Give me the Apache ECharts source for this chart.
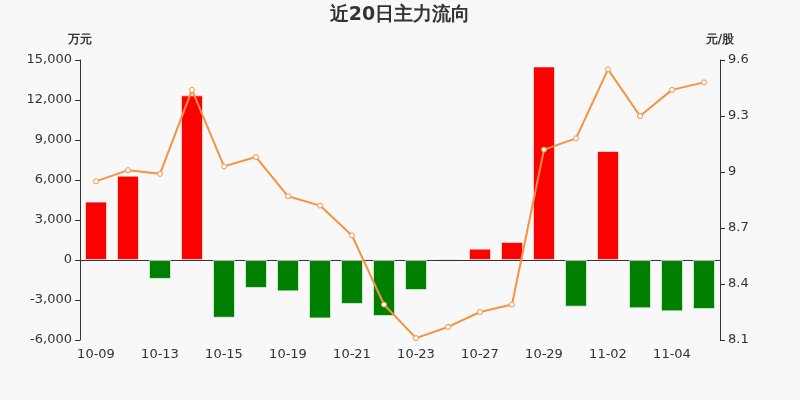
<!DOCTYPE html>
<html>
<head>
<meta charset="utf-8">
<script src="https://cdn.jsdelivr.net/npm/echarts@6/dist/echarts.min.js"></script>
<style>
    html, body { margin: 0; padding: 0; background: #f8f8f8; }
    #flowChart { width: 800px; height: 400px; }
</style>
</head>
<body>
<div id="flowChart"></div>
<script>
const days = ['10-09', '10-12', '10-13', '10-14', '10-15', '10-16', '10-19', '10-20', '10-21', '10-22',
    '10-23', '10-26', '10-27', '10-28', '10-29', '10-30', '11-02', '11-03', '11-04', '11-05'];
// 主力净流入 (万元)
const flows = [4380, 6320, -1420, 12350, -4330, -2100, -2350, -4380, -3300, -4200,
    -2250, 110, 850, 1350, 14520, -3500, 8180, -3620, -3850, -3680];
// 收盘价 (元/股)
const prices = [8.95, 9.01, 8.99, 9.44, 9.03, 9.08, 8.87, 8.82, 8.66, 8.29,
    8.11, 8.17, 8.25, 8.29, 9.12, 9.18, 9.55, 9.30, 9.44, 9.48];
const flowTicks = [-6000, 15000, 3000];
const priceTicks = [8.1, 9.6, 0.3];

document.addEventListener('DOMContentLoaded', function () {
    const myChart = echarts.init(document.getElementById('flowChart'));

    const axisText = { color: '#333', fontSize: 13 };
    const nameText = { color: '#333', fontSize: 12, fontWeight: 'bold' };

    const option = {
        animation: false,
        backgroundColor: '#f8f8f8',
        textStyle: { fontFamily: 'DejaVu Sans' },
        title: {
            text: '近20日主力流向',
            left: 'center',
            top: 1,
            textStyle: { color: '#333', fontSize: 19, fontWeight: 'bold', fontFamily: 'DejaVu Sans' }
        },
        grid: {
            top: 60,
            left: 80,
            right: 80,
            bottom: 60
        },
        xAxis: {
            type: 'category',
            data: days,
            axisLine: { onZero: true, lineStyle: { color: '#333' } },
            axisTick: { interval: 1, alignWithLabel: false },
            axisLabel: { interval: 1, color: '#333', fontSize: 13, margin: 8 }
        },
        yAxis: [
            {
                type: 'value',
                name: '万元',
                nameGap: 14,
                nameTextStyle: nameText,
                min: flowTicks[0],
                max: flowTicks[1],
                interval: flowTicks[2],
                axisLine: { show: true, lineStyle: { color: '#333' } },
                axisTick: { show: true },
                splitLine: { show: false },
                axisLabel: Object.assign({}, axisText, {
                    formatter: function (v) { return v.toLocaleString('en-US'); }
                })
            },
            {
                type: 'value',
                name: '元/股',
                nameGap: 14,
                nameTextStyle: nameText,
                min: priceTicks[0],
                max: priceTicks[1],
                interval: priceTicks[2],
                axisLine: { show: true, lineStyle: { color: '#333' } },
                axisTick: { show: true },
                splitLine: { show: false },
                axisLabel: Object.assign({}, axisText, {
                    formatter: function (v) { return String(Math.round(v * 10) / 10); }
                })
            }
        ],
        series: [
            {
                name: '主力净流入',
                type: 'bar',
                data: flows,
                barWidth: 22,
                itemStyle: {
                    color: function (params) {
                        return params.value >= 0 ? '#ff0000' : '#008000';
                    },
                    borderColor: 'rgba(255, 255, 255, 0.6)',
                    borderWidth: 1
                }
            },
            {
                name: '收盘价',
                type: 'line',
                yAxisIndex: 1,
                data: prices,
                symbol: 'circle',
                symbolSize: 5,
                itemStyle: {
                    color: '#fff',
                    borderColor: '#f7923f',
                    borderWidth: 1
                },
                lineStyle: { color: '#f7923f', width: 2 }
            }
        ]
    };

    myChart.setOption(option);
});
</script>
</body>
</html>
